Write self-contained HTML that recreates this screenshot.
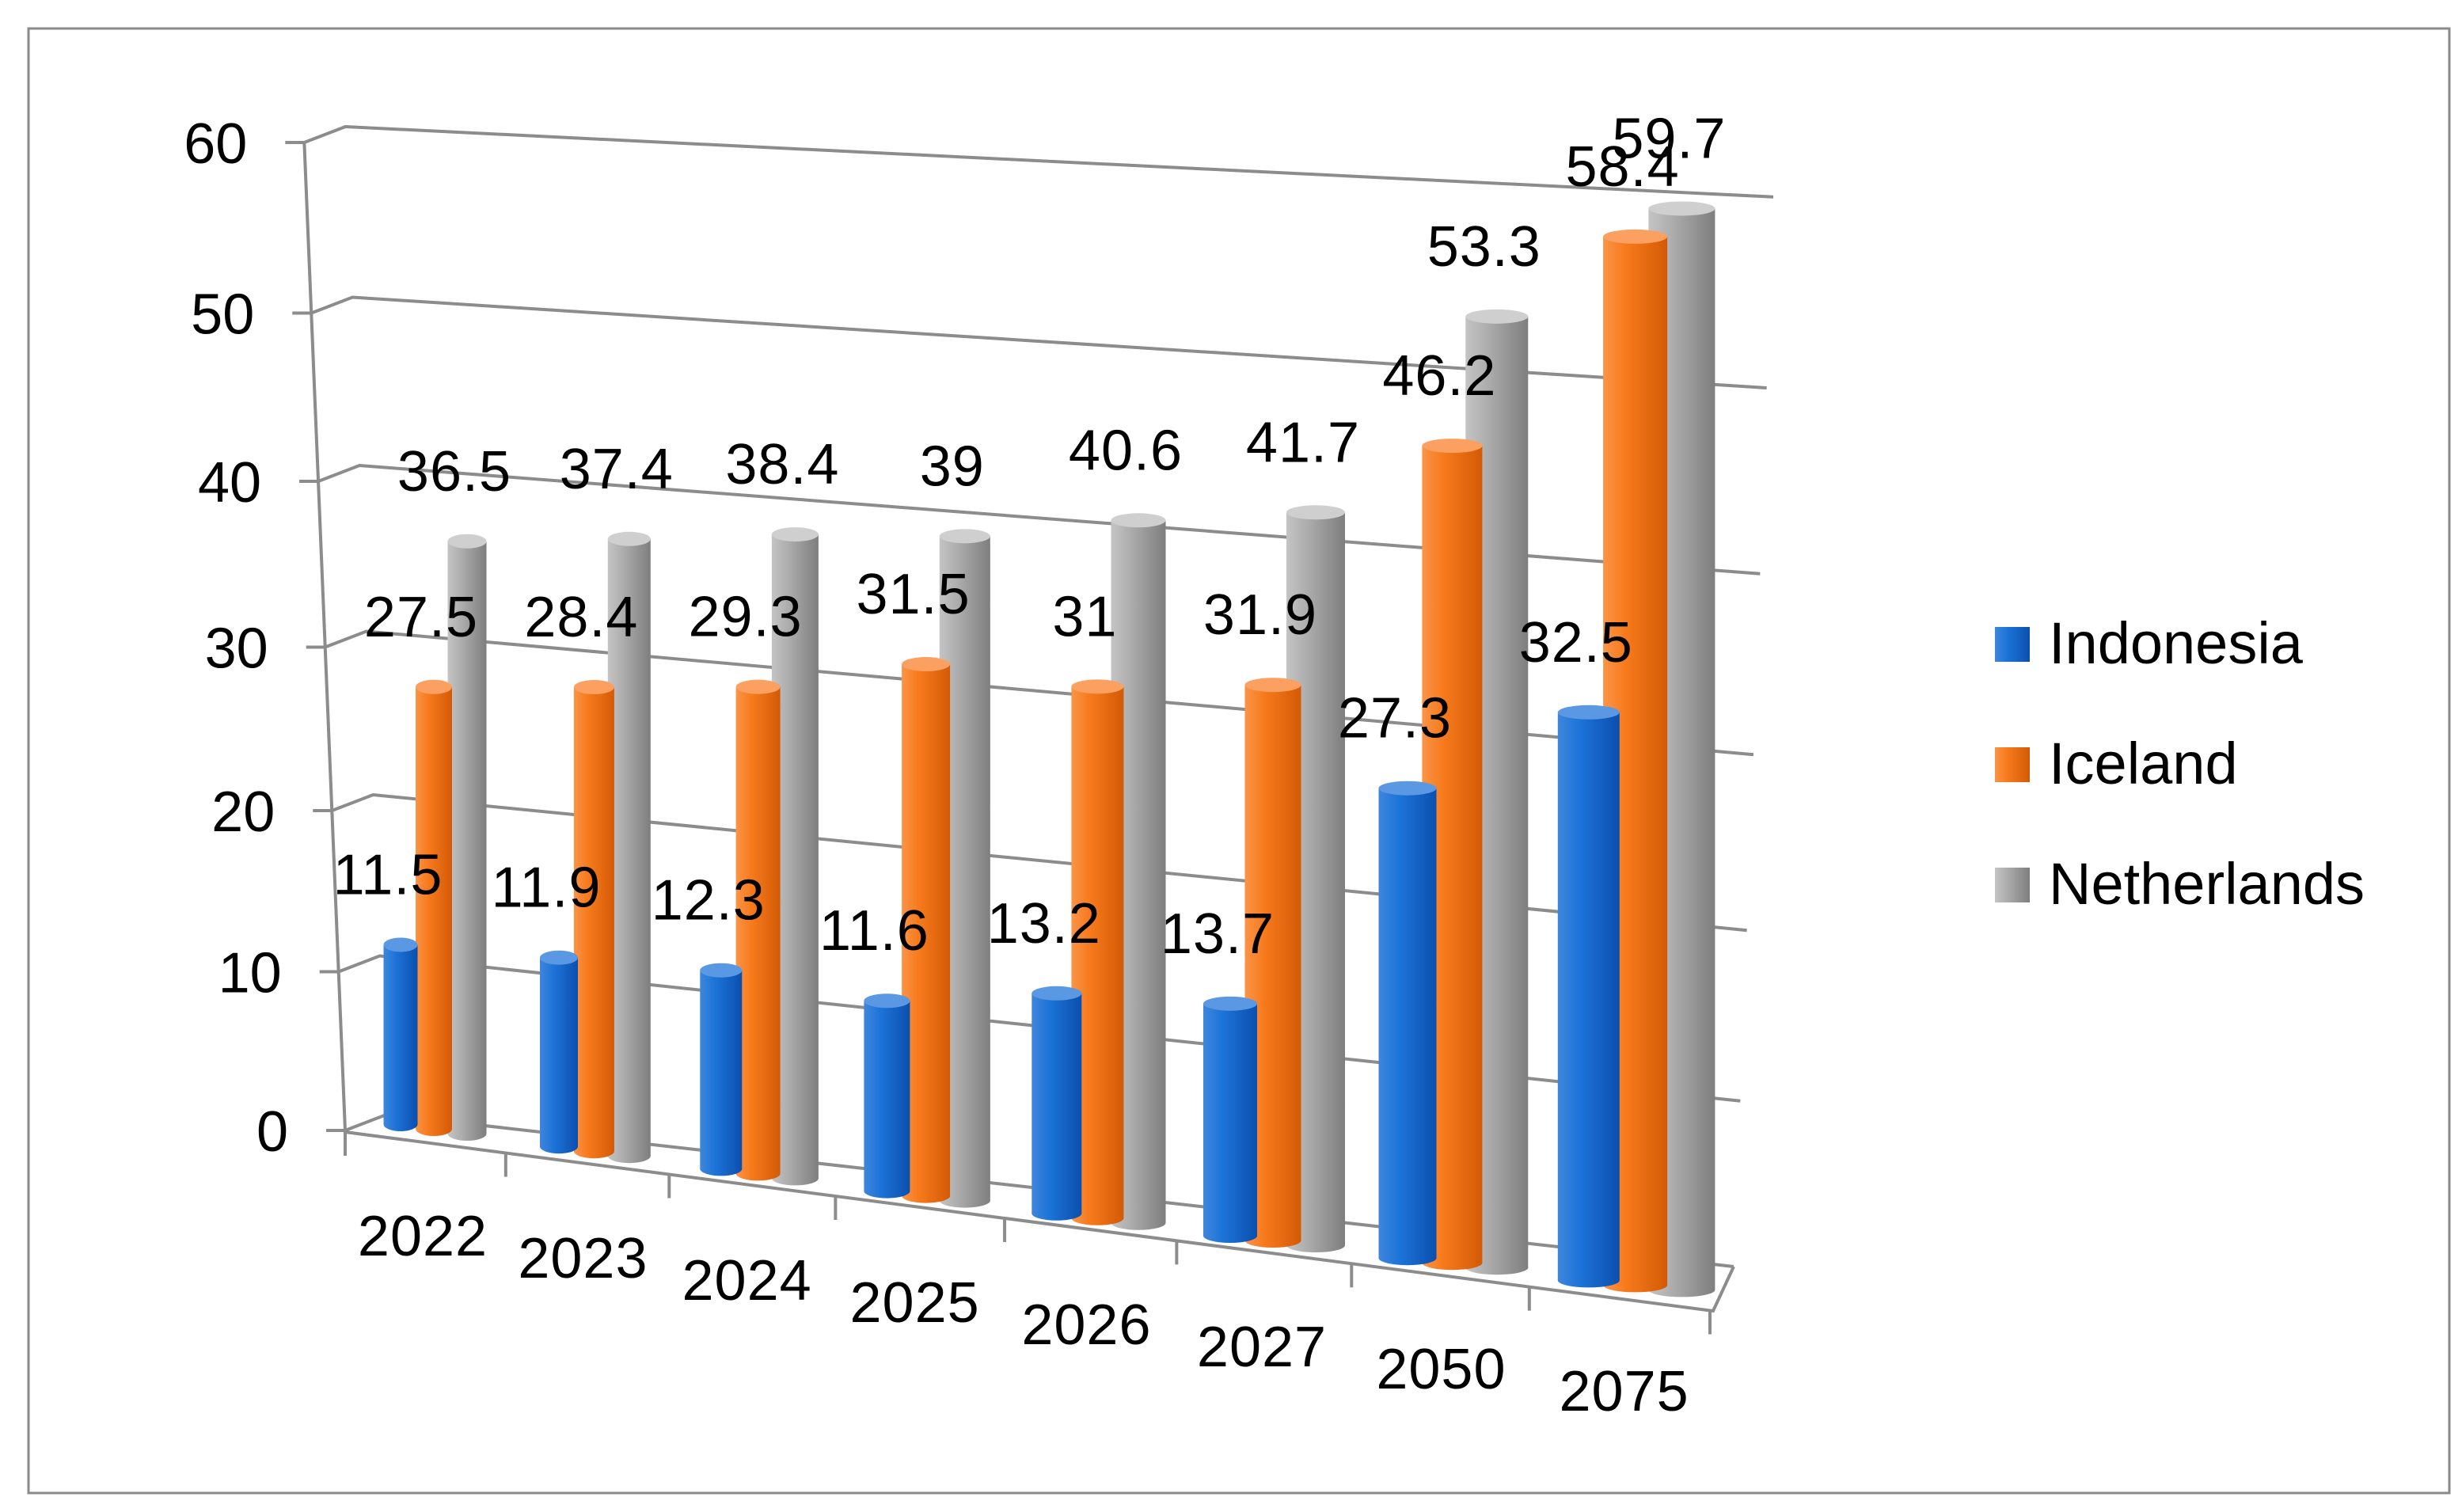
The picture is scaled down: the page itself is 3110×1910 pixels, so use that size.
<!DOCTYPE html>
<html><head><meta charset="utf-8"><style>
html,body{margin:0;padding:0;background:#fff;}
svg{display:block;font-family:"Liberation Sans",sans-serif;}
</style></head><body>
<svg id="chart" width="3110" height="1910" viewBox="0 0 1555 955" xmlns="http://www.w3.org/2000/svg">
<defs>
<linearGradient id="gBlue" x1="0" x2="1" y1="0" y2="0"><stop offset="0" stop-color="#3f86dc"/><stop offset="0.35" stop-color="#1d74d8"/><stop offset="1" stop-color="#0b4fae"/></linearGradient>
<linearGradient id="gOrange" x1="0" x2="1" y1="0" y2="0"><stop offset="0" stop-color="#fa9448"/><stop offset="0.35" stop-color="#f77a1c"/><stop offset="1" stop-color="#d35a06"/></linearGradient>
<linearGradient id="gGray" x1="0" x2="1" y1="0" y2="0"><stop offset="0" stop-color="#c4c4c4"/><stop offset="0.35" stop-color="#adadad"/><stop offset="1" stop-color="#7e7e7e"/></linearGradient>
</defs>
<rect x="18" y="18" width="1529" height="925" fill="#fff" stroke="#8a8a8a" stroke-width="1.5"/>
<g id="axes"></g>
<g id="bars"></g>
<g id="labels"></g>
<g id="legend">
  <rect x="1260" y="396" width="22" height="22" fill="url(#gBlue)"/>
  <text x="1294" y="419" font-size="37">Indonesia</text>
  <rect x="1260" y="472" width="22" height="22" fill="url(#gOrange)"/>
  <text x="1294" y="495" font-size="37">Iceland</text>
  <rect x="1260" y="548" width="22" height="22" fill="url(#gGray)"/>
  <text x="1294" y="571" font-size="37">Netherlands</text>
</g>
</svg>
<script>
const categories = ["2022","2023","2024","2025","2026","2027","2050","2075"];
const indonesia = [11.5, 11.9, 12.3, 11.6, 13.2, 13.7, 27.3, 32.5];
const iceland = [27.5, 28.4, 29.3, 31.5, 31, 31.9, 46.2, 58.4];
const netherlands = [36.5, 37.4, 38.4, 39, 40.6, 41.7, 53.3, 59.7];
const yTicks = [0, 10, 20, 30, 40, 50, 60];

const NS = "http://www.w3.org/2000/svg";
function mk(tag, attrs, parent) {
  const e = document.createElementNS(NS, tag);
  for (const k in attrs) e.setAttribute(k, attrs[k]);
  parent.appendChild(e);
  return e;
}
const axes = document.getElementById('axes');
const barsG = document.getElementById('bars');
const labelsG = document.getElementById('labels');

function frontY(v) { const t = v / 10; return 714 - 99.5 * t - 0.75 * t * t; }
function frontX(y) { return 218 - 26 * (714 - y) / 628; }
function rightY(v) { const t = v / 10; return 800 - 103 * t - 1.6 * t * t; }
function rightX(v) { return 1095 + 25 * v / 60; }
const gridColor = "#8c8c8c";

yTicks.forEach(function (v) {
  const fy = frontY(v), fx = frontX(fy);
  const bx = fx + 26, by = fy - 10;
  const gl = mk('polyline', {points: fx + "," + fy + " " + bx + "," + by + " " + rightX(v) + "," + rightY(v), fill: "none", stroke: gridColor, "stroke-width": 2}, axes);
  
  
  const tk = mk('line', {x1: fx - 12, y1: fy, x2: fx, y2: fy, stroke: gridColor, "stroke-width": 2}, axes);
  
  
  const lb = mk('text', {x: fx - 36, y: fy + 13, "font-size": 36, "text-anchor": "end"}, axes);
  lb.textContent = String(v);
  
  
});
const ya = mk('line', {x1: frontX(frontY(60)), y1: frontY(60), x2: 218, y2: 714, stroke: gridColor, "stroke-width": 2}, axes);


const fl = mk('polyline', {points: "218,715 1082,828 1095,800", fill: "none", stroke: gridColor, "stroke-width": 2}, axes);



for (let j = 0; j <= categories.length; j++) {
  const x = 218 + (1080 - 218) * (100 * j + 0.9 * j * j) / (100 * 8 + 0.9 * 64);
  const y = 715 + (828 - 715) * (x - 218) / (1082 - 218);
  const t = mk('line', {x1: x, y1: y, x2: x, y2: y + 15, stroke: gridColor, "stroke-width": 2}, axes);
  
  
}
categories.forEach(function (c, i) {
  const cx = 267 + 100 * i + 1.2 * i * i;
  const cy = 780 + 14 * i;
  const t = mk('text', {x: cx, y: cy + 13, "font-size": 36, "text-anchor": "middle", "letter-spacing": "0.5"}, axes);
  t.textContent = c;
  
  
});

const series = [
  {name: "netherlands", vals: netherlands, grad: "url(#gGray)", top: "#cfcfcf", s: 1},
  {name: "iceland", vals: iceland, grad: "url(#gOrange)", top: "#fba060", s: 0},
  {name: "indonesia", vals: indonesia, grad: "url(#gBlue)", top: "#5a98e4", s: -1}
];
series.forEach(function (ser) {
  ser.vals.forEach(function (v, i) {
    const center = 274 + 100 * i + 1.2 * i * i;
    const dx = 21 + 1.2 * i;
    const cx = center + ser.s * dx;
    const w = 23 + 2.5 * i + ser.s * 1.5;
    const bottom = 713 + 14.1 * i + ser.s * 3;
    const k = 10.15 + 0.17 * i + (ser.s === -1 ? -0.3 : ser.s === 1 ? 0.1 : 0);
    const top = bottom - v * k;
    const g = mk('g', {}, barsG);
    
    
    mk('ellipse', {cx: cx, cy: bottom, rx: w / 2, ry: 4.5, fill: ser.grad}, g);
    mk('rect', {x: cx - w / 2, y: top, width: w, height: bottom - top, fill: ser.grad}, g);
    mk('ellipse', {cx: cx, cy: top, rx: w / 2, ry: 4.5, fill: ser.top}, g);
    const lb = mk('text', {x: cx - 8, y: top - 32, "font-size": 36, "text-anchor": "middle", "letter-spacing": "0.5"}, labelsG);
    lb.textContent = String(v);
    
    
  });
});
</script>
</body></html>
